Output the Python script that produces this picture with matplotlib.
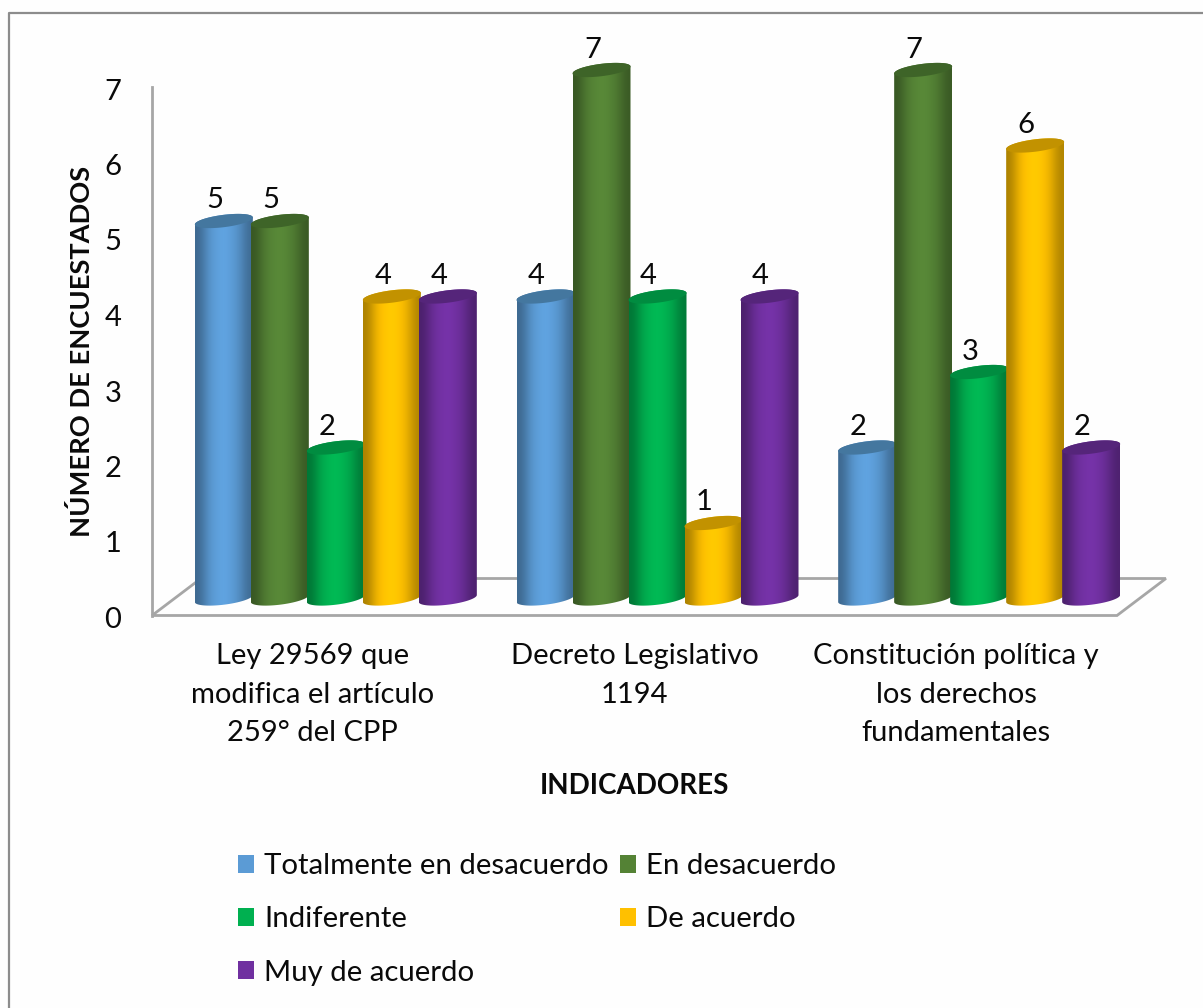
import numpy as np
import matplotlib
matplotlib.use('Agg')
import matplotlib.pyplot as plt
from matplotlib.lines import Line2D
from matplotlib.patches import Patch, Polygon, PathPatch
from matplotlib.path import Path
from matplotlib.transforms import ScaledTranslation

plt.rcParams['font.family'] = ['Lato', 'DejaVu Sans']

indicadores = ['Ley 29569 que\nmodifica el artículo\n259° del CPP',
               'Decreto Legislativo\n1194',
               'Constitución política y\nlos derechos\nfundamentales']
series = ['Totalmente en desacuerdo', 'En desacuerdo', 'Indiferente', 'De acuerdo', 'Muy de acuerdo']
totalmente = [5, 4, 2]
en_desacuerdo = [5, 7, 7]
indiferente = [2, 4, 3]
de_acuerdo = [4, 1, 6]
muy_de_acuerdo = [4, 4, 2]
valores = [totalmente, en_desacuerdo, indiferente, de_acuerdo, muy_de_acuerdo]
colores = ['#5B9BD5', '#548235', '#00B050', '#FFC000', '#7030A0']
tapas = ['#44779F', '#3E6428', '#008C40', '#C29200', '#55257A']

W, H = 1203, 1008
GRIS = '#A6A6A6'
TEXTO = '#0A0A0A'


def caja(x0, y_top, x1, y_bot):
    # pixel box (from top left) to figure fractions
    return [x0 / W, 1 - y_bot / H, (x1 - x0) / W, (y_bot - y_top) / H]


fig = plt.figure(figsize=(W / 100, H / 100), dpi=100, facecolor='#FEFEFE')

# marco del grafico: solo arriba e izquierda
fig.add_artist(Line2D([8.5 / W, 8.5 / W, 1], [0, 1 - 13 / H, 1 - 13 / H], color='#8C8C8C', lw=1.6))

# ejes con piso, en el plano frontal
ax = fig.add_axes(caja(152, 87, 1117, 615.5))
ax.patch.set_alpha(0)
ax.set_xlim(-0.5, 2.5)
ax.set_ylim(0, 7)
for s in ['top', 'right', 'bottom']:
    ax.spines[s].set_visible(False)
ax.spines['left'].set_color(GRIS)
ax.spines['left'].set_linewidth(2)
ax.set_yticks(range(8))
ax.set_xticks(range(3))
ax.set_xticklabels(indicadores, fontsize=21, linespacing=1.6, color=TEXTO)
ax.tick_params(axis='x', length=0, pad=20)
ax.tick_params(axis='y', length=0, pad=22, labelsize=21, colors=TEXTO)
# los numeros del eje van 2 px mas abajo
bajar = ScaledTranslation(0, -2 / 100, fig.dpi_scale_trans)
for lab in ax.get_yticklabels():
    lab.set_transform(lab.get_transform() + bajar)
prof_x, prof_y = 0.152, 0.49
ax.add_patch(Polygon([(-0.5, 0), (-0.5 + prof_x, prof_y), (2.5 + prof_x, prof_y), (2.5, 0)],
                     closed=True, fc='none', ec=GRIS, lw=2, clip_on=False))

ax.set_ylabel('NÚMERO DE ENCUESTADOS', fontsize=19.6, fontweight='bold', color=TEXTO)
ax.yaxis.set_label_coords(-58 / 965, 0.5)
ax.set_xlabel('INDICADORES', fontsize=20, fontweight='bold', color=TEXTO)
ax.xaxis.set_label_coords(0.5, -(786 - 615.5) / 528.5, transform=ax.transAxes)
ax.xaxis.label.set_verticalalignment('center')

# cilindros, desplazados hacia el fondo del piso
ax3 = fig.add_axes(caja(174, 70, 1139, 598.5))
ax3.patch.set_alpha(0)
ax3.axis('off')
ax3.set_xlim(-0.5, 2.5)
ax3.set_ylim(0, 7)

px_x = 3 / 965
px_y = 7 / 528.5
paso = 56 * px_x
a = 29 * px_x
b = 6.2 * px_y
incl = 3.5 * px_y
t = np.linspace(0, 2 * np.pi, 121)
perfil = np.array([0.68, 0.78, 0.92, 1.0, 1.04, 1.06, 1.03, 0.98, 0.9, 0.78, 0.7])
n = 0
for j, (vals, c, tapa) in enumerate(zip(valores, colores, tapas)):
    rgb = np.array(matplotlib.colors.to_rgb(c))
    img = np.clip(perfil[None, :, None] * rgb[None, None, :], 0, 1)
    for i, v in enumerate(vals):
        cx = i + (j - 2) * paso + 1 * px_x
        ex = a * np.cos(t)
        ey = b * np.sin(t) + incl * np.cos(t)
        arriba = t <= np.pi
        abajo = t >= np.pi
        cuerpo = np.vstack([np.column_stack([cx + ex[abajo], ey[abajo]]),
                            np.column_stack([cx + ex[arriba], v + ey[arriba]])])
        z = 2 + n * 0.01
        parche = PathPatch(Path(np.vstack([cuerpo, cuerpo[:1]])), fc='none', ec='none', transform=ax3.transData)
        ax3.add_patch(parche)
        im = ax3.imshow(img, extent=(cx - a, cx + a, -0.2, v + 0.2), aspect='auto',
                        interpolation='bicubic', zorder=z)
        im.set_clip_box(fig.bbox)
        im.set_clip_path(parche)
        ax3.add_patch(Polygon(np.column_stack([cx + ex, v + ey]), closed=True, fc=tapa, ec='none',
                              zorder=z + 0.001, clip_on=False))
        ax3.text(cx - 9 * px_x, v + 20.5 * px_y, str(v), ha='center', va='center', fontsize=21,
                 color=TEXTO, zorder=10, clip_on=False)
        n += 1
ax3.set_xlim(-0.5, 2.5)
ax3.set_ylim(0, 7)

handles = [Patch(fc=c, ec='none') for c in colores]
orden = [0, 2, 4, 1, 3]
fig.legend([handles[k] for k in orden], [series[k] for k in orden], ncol=2, frameon=False,
           loc='upper left', bbox_to_anchor=(238 / W, 1 - 853 / H), borderpad=0, borderaxespad=0,
           fontsize=21.2, handlelength=0.56, handleheight=0.56, handletextpad=0.33,
           labelspacing=0.93, columnspacing=0.38, labelcolor=TEXTO)

plt.savefig('out.png', dpi=100, facecolor=fig.get_facecolor())
